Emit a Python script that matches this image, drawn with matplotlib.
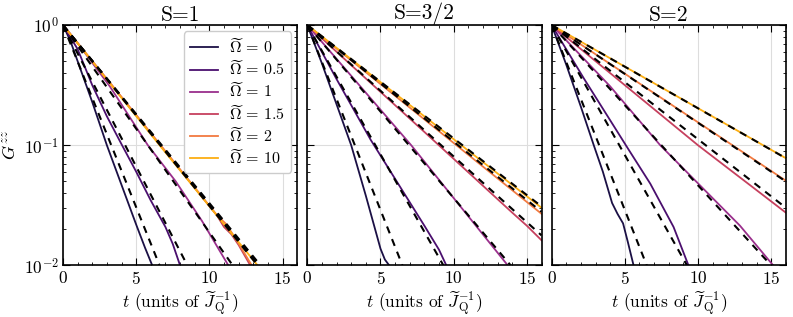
import numpy as np
import matplotlib
matplotlib.use("Agg")
import matplotlib.pyplot as plt
from matplotlib.ticker import MultipleLocator, LogLocator, NullFormatter

plt.rcParams['font.family'] = 'serif'
plt.rcParams['font.serif'] = ['cmr10', 'DejaVu Serif']
plt.rcParams['mathtext.fontset'] = 'cm'
plt.rcParams['axes.formatter.use_mathtext'] = True
plt.rcParams['font.size'] = 12

# legend entries and colours
omegas = ['0', '0.5', '1', '1.5', '2', '10']
colors = ['#1b1045', '#4a0f6e', '#9a2f8c', '#c6405e', '#f27a40', '#fcae12']
titles = ['S=1', 'S=3/2', 'S=2']

# S=1 solid curves (t, G)
s1_t = [
    [0, 0.5, 1, 2, 3, 4, 5, 5.6, 6.1],
    [0, 1, 2, 3, 4, 5, 6, 7, 7.5, 8],
    [0, 1, 3.2, 5.8, 7.7, 9.5, 11.3],
    [0, 5, 10.5, 11.0, 11.5, 12.0, 12.8],
    [0, 5, 10.5, 11.1, 11.6, 12.1, 12.9],
    [0, 6.6, 13.3],
]
s1_g = [
    [1, 0.741, 0.501, 0.229, 0.1, 0.0468, 0.0219, 0.0141, 0.01],
    [1, 0.631, 0.316, 0.174, 0.102, 0.0603, 0.0347, 0.0209, 0.0151, 0.01],
    [1, 0.708, 0.309, 0.1, 0.0501, 0.0234, 0.01],
    [1, 0.178, 0.0263, 0.0209, 0.0182, 0.0148, 0.01],
    [1, 0.178, 0.0263, 0.0224, 0.0182, 0.0145, 0.01],
    [1, 0.1, 0.01],
]
# S=1 fits: end point of each dashed line
s1_fit_t = [6.6, 8.5, 11.6, 13.3, 13.4, 13.5]
s1_fit_g = [0.01, 0.01, 0.01, 0.01, 0.01, 0.01]

# S=3/2
s32_t = [
    [0, 1, 2, 3, 4, 5, 5.3, 5.6],
    [0, 2, 4.33, 6, 8, 9, 9.5],
    [0, 7.1, 13.7],
    [0, 8, 14, 15, 16],
    [0, 16],
    [0, 16],
]
s32_g = [
    [1, 0.479, 0.219, 0.1, 0.038, 0.0138, 0.0112, 0.01],
    [1, 0.355, 0.111, 0.0525, 0.0214, 0.0135, 0.01],
    [1, 0.1, 0.01],
    [1, 0.129, 0.0275, 0.0214, 0.0162],
    [1, 0.0269],
    [1, 0.0302],
]
s32_fit_t = [6.5, 9.3, 13.9, 16, 16, 16]
s32_fit_g = [0.01, 0.01, 0.01, 0.0178, 0.028, 0.031]

# S=2
s2_t = [
    [0, 1, 2, 2.88, 3.5, 4.13, 4.5, 4.88, 5.2, 5.6],
    [0, 2.2, 5.26, 6.74, 8.33, 9.35],
    [0, 4, 7.42, 12.87, 15.14],
    [0, 10, 14.5, 16],
    [0, 16],
    [0, 16],
]
s2_g = [
    [1, 0.468, 0.209, 0.1, 0.0603, 0.0331, 0.0269, 0.0224, 0.0158, 0.01],
    [1, 0.36, 0.092, 0.0479, 0.0209, 0.01],
    [1, 0.309, 0.1, 0.0214, 0.01],
    [1, 0.1, 0.038, 0.0275],
    [1, 0.0507],
    [1, 0.0781],
]
s2_fit_t = [6.5, 9.25, 15.0, 16, 16, 16]
s2_fit_g = [0.01, 0.01, 0.01, 0.0302, 0.05, 0.078]

panels = [(s1_t, s1_g, s1_fit_t, s1_fit_g),
          (s32_t, s32_g, s32_fit_t, s32_fit_g),
          (s2_t, s2_g, s2_fit_t, s2_fit_g)]

fig, axes = plt.subplots(1, 3, figsize=(7.93, 3.17), dpi=100, sharey=True)
fig.subplots_adjust(left=0.0794, right=0.991, top=0.921, bottom=0.1625, wspace=0.043)

for k, ax in enumerate(axes):
    tt, gg, ft, fg = panels[k]
    for i in range(6):
        ax.plot(tt[i], gg[i], color=colors[i], lw=1.3,
                label=r'$\widetilde{\Omega}\,=\,' + omegas[i] + '$')
    for i in range(6):
        ax.plot([0, ft[i]], [1, fg[i]], color='k', lw=1.5, ls=(0, (3.5, 3)))
    ax.set_yscale('log')
    ax.set_xlim(0, 16)
    ax.set_ylim(1e-2, 1)
    ax.set_title(titles[k], fontsize=15.5, pad=3)
    ax.set_xlabel(r'$t$ (units of $\widetilde{J}_\mathrm{Q}^{-1}$)', fontsize=12.5, labelpad=2)
    ax.xaxis.set_major_locator(MultipleLocator(5))
    ax.xaxis.set_minor_locator(MultipleLocator(1))
    ax.yaxis.set_minor_locator(LogLocator(base=10, subs=np.arange(2, 10), numticks=10))
    ax.yaxis.set_minor_formatter(NullFormatter())
    ax.tick_params(which='both', direction='in', top=True, right=True)
    ax.tick_params(which='major', length=5, width=0.8, labelsize=12.5, pad=3)
    ax.tick_params(which='minor', length=2.5, width=0.6)
    ax.grid(True, which='major', color='#dddddd', lw=0.8)
    for sp in ax.spines.values():
        sp.set_linewidth(1.2)
    if k > 0:
        ax.tick_params(labelleft=False)

axes[0].set_ylabel(r'$G^{zz}$', fontsize=13)
axes[0].legend(loc='upper right', fontsize=11.5, handlelength=1.8,
               labelspacing=0.2, borderaxespad=0.4, borderpad=0.35,
               handletextpad=0.7, framealpha=1, edgecolor='#cccccc')

fig.savefig('out.png', dpi=100)
